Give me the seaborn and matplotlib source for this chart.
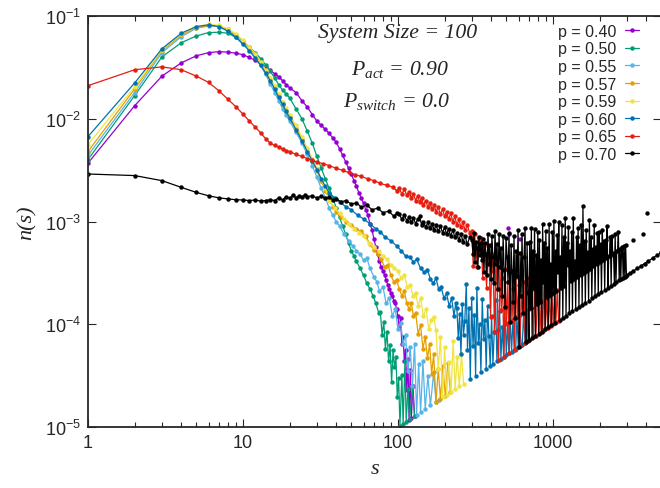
# Cluster size distribution n(s), log-log, for several occupation probabilities p.
import numpy as np
import pandas as pd
import seaborn as sns
import matplotlib.pyplot as plt
from matplotlib import ticker

# one cluster of size s gives n = s * UNIT (the lowest level in the tails)
UNIT = 1e-7

labels = ['p = 0.40', 'p = 0.50', 'p = 0.55', 'p = 0.57',
          'p = 0.59', 'p = 0.60', 'p = 0.65', 'p = 0.70']
colors = ['#9400d3', '#009e73', '#56b4e9', '#e69f00',
          '#f0e442', '#0072b2', '#e51e10', '#000000']

# smooth part of each curve: s and n(s)
s_040 = [1, 2, 3, 4, 5, 6, 7, 8, 9, 10, 11, 12, 13, 14, 15, 16, 17, 18, 19, 20,
         22, 24, 26, 28, 30, 32, 34, 36, 38, 40, 42, 44, 46, 48, 50, 52, 54, 56,
         58, 60, 62, 64, 66, 68, 70, 72, 74, 76, 78, 80, 82, 84, 86, 88, 90, 92,
         94, 96, 98, 100]
n_040 = [3.7e-3, 1.34e-2, 2.6e-2, 3.5e-2, 4.1e-2, 4.4e-2, 4.5e-2, 4.45e-2, 4.35e-2,
         4.2e-2, 3.95e-2, 3.7e-2, 3.45e-2, 3.2e-2, 2.95e-2, 2.75e-2, 2.55e-2, 2.35e-2,
         2.15e-2, 2.0e-2, 1.8e-2, 1.5e-2, 1.3e-2, 1.1e-2, 9.5e-3, 8.6e-3, 7.9e-3,
         7.2e-3, 6.5e-3, 5.9e-3, 5.1e-3, 4.4e-3, 3.8e-3, 3.3e-3, 2.9e-3, 2.5e-3,
         2.2e-3, 1.9e-3, 1.7e-3, 1.5e-3, 1.3e-3, 1.15e-3, 9.5e-4, 8.3e-4, 6.8e-4,
         5.6e-4, 4.8e-4, 4.1e-4, 3.6e-4, 3.3e-4, 3.0e-4, 2.7e-4, 2.4e-4, 2.2e-4,
         2.0e-4, 1.9e-4, 1.7e-4, 1.6e-4, 1.4e-4, 1.2e-4]

s_050 = [1, 2, 3, 4, 5, 6, 7, 8, 9, 10, 11, 12, 13, 14, 15, 16, 17, 18, 19, 20,
         22, 24, 26, 28, 30, 32, 34, 36, 38, 40, 42, 44, 46, 48, 50, 52, 54, 57,
         60, 63, 66, 69, 72, 75]
n_050 = [4.0e-3, 1.68e-2, 4.0e-2, 5.5e-2, 6.4e-2, 6.9e-2, 6.95e-2, 6.8e-2, 6.2e-2,
         5.6e-2, 5.0e-2, 4.4e-2, 3.85e-2, 3.35e-2, 2.9e-2, 2.5e-2, 2.15e-2, 1.9e-2,
         1.75e-2, 1.6e-2, 1.25e-2, 1.0e-2, 7.6e-3, 5.8e-3, 4.3e-3, 3.3e-3, 2.6e-3,
         2.1e-3, 1.7e-3, 1.35e-3, 1.1e-3, 9e-4, 7.5e-4, 6.2e-4, 5.2e-4, 4.6e-4,
         4.1e-4, 3.5e-4, 3.0e-4, 2.5e-4, 2.2e-4, 1.9e-4, 1.6e-4, 1.3e-4]

s_055 = [1, 2, 3, 4, 5, 6, 7, 8, 9, 10, 11, 12, 13, 14, 15, 16, 17, 18, 19, 20,
         22, 24, 26, 28, 30, 32, 34, 36, 38, 40, 42, 45, 48, 51, 54, 57, 60, 63,
         66, 70, 73, 76, 80, 84, 88, 92, 96]
n_055 = [4.4e-3, 1.8e-2, 4.4e-2, 6.3e-2, 7.6e-2, 8.0e-2, 7.9e-2, 7.2e-2, 6.4e-2,
         5.5e-2, 4.7e-2, 4.0e-2, 3.3e-2, 2.7e-2, 2.2e-2, 1.8e-2, 1.5e-2, 1.25e-2,
         1.08e-2, 9.5e-3, 7.4e-3, 5.8e-3, 4.5e-3, 3.5e-3, 2.7e-3, 2.1e-3, 1.7e-3,
         1.35e-3, 1.15e-3, 1.0e-3, 9e-4, 7.5e-4, 6.5e-4, 5.8e-4, 5.2e-4, 4.8e-4,
         4.2e-4, 4.4e-4, 3.5e-4, 2.9e-4, 2.6e-4, 2.1e-4, 2.3e-4, 1.6e-4, 1.8e-4,
         1.2e-4, 1.4e-4]

s_057 = [1, 2, 3, 4, 5, 6, 7, 8, 9, 10, 11, 12, 13, 14, 15, 16, 17, 18, 19, 20,
         22, 24, 26, 28, 30, 32, 34, 36, 38, 40, 43, 46, 50, 54, 58, 62, 66, 70,
         74, 78, 82, 86, 90, 94, 98, 102, 106, 110, 114, 118, 122, 126, 130]
n_057 = [4.8e-3, 1.95e-2, 4.6e-2, 6.5e-2, 7.7e-2, 8.1e-2, 8.0e-2, 7.4e-2, 6.6e-2,
         5.7e-2, 4.9e-2, 4.2e-2, 3.5e-2, 2.9e-2, 2.4e-2, 2.0e-2, 1.65e-2, 1.38e-2,
         1.2e-2, 1.05e-2, 8.2e-3, 6.3e-3, 4.9e-3, 3.9e-3, 3.1e-3, 2.5e-3, 2.0e-3,
         1.65e-3, 1.4e-3, 1.25e-3, 1.1e-3, 1.0e-3, 9.2e-4, 8.5e-4, 8.0e-4, 7.2e-4,
         6.0e-4, 5.3e-4, 4.8e-4, 4.3e-4, 3.6e-4, 3.8e-4, 3.0e-4, 2.6e-4, 2.7e-4,
         2.2e-4, 1.9e-4, 2.1e-4, 1.6e-4, 1.4e-4, 1.6e-4, 1.2e-4, 1.3e-4]

s_059 = [1, 2, 3, 4, 5, 6, 7, 8, 9, 10, 11, 12, 13, 14, 15, 16, 17, 18, 19, 20,
         22, 24, 26, 28, 30, 32, 34, 36, 39, 42, 45, 48, 52, 56, 60, 65, 70, 75,
         80, 85, 90, 95, 100, 105, 110, 115, 120, 125, 130, 135, 140, 146, 152,
         158, 164]
n_059 = [5.6e-3, 2.05e-2, 4.7e-2, 6.7e-2, 7.9e-2, 8.3e-2, 8.1e-2, 7.5e-2, 6.7e-2,
         5.8e-2, 5.0e-2, 4.3e-2, 3.6e-2, 3.0e-2, 2.5e-2, 2.1e-2, 1.75e-2, 1.47e-2,
         1.27e-2, 1.1e-2, 8.6e-3, 6.7e-3, 5.2e-3, 4.1e-3, 3.3e-3, 2.6e-3, 2.1e-3,
         1.6e-3, 1.35e-3, 1.2e-3, 1.05e-3, 9.5e-4, 8.5e-4, 7.8e-4, 7.2e-4, 6.2e-4,
         5.6e-4, 5.2e-4, 4.6e-4, 4.3e-4, 3.8e-4, 3.5e-4, 3.3e-4, 2.8e-4, 3.0e-4,
         2.3e-4, 2.4e-4, 1.9e-4, 2.0e-4, 1.5e-4, 1.8e-4, 1.2e-4, 1.4e-4, 9e-5,
         1.1e-4]

s_060 = [1, 2, 3, 4, 5, 6, 7, 8, 9, 10, 11, 12, 13, 14, 15, 16, 17, 18, 19, 20,
         22, 24, 26, 28, 30, 32, 34, 36, 39, 42, 46, 50, 55, 60, 66, 72, 77, 83,
         90, 98, 105, 112, 120, 126, 132, 140, 148, 155, 162, 169, 176, 183, 190,
         198, 206, 214, 222, 230, 236]
n_060 = [6.7e-3, 2.23e-2, 4.8e-2, 6.8e-2, 7.9e-2, 8.2e-2, 7.9e-2, 7.1e-2, 6.2e-2,
         5.3e-2, 4.6e-2, 3.9e-2, 3.3e-2, 2.8e-2, 2.35e-2, 1.95e-2, 1.62e-2, 1.38e-2,
         1.18e-2, 1.02e-2, 7.8e-3, 6.1e-3, 4.8e-3, 3.9e-3, 3.2e-3, 2.6e-3, 2.2e-3,
         1.9e-3, 1.7e-3, 1.55e-3, 1.4e-3, 1.3e-3, 1.15e-3, 1.06e-3, 9.5e-4, 8.5e-4,
         7.9e-4, 7.0e-4, 6.5e-4, 5.8e-4, 5.2e-4, 4.6e-4, 4.5e-4, 4.0e-4, 4.3e-4,
         3.5e-4, 3.2e-4, 3.4e-4, 2.75e-4, 2.5e-4, 2.8e-4, 2.2e-4, 2.3e-4, 1.8e-4,
         2.0e-4, 1.5e-4, 1.8e-4, 1.2e-4, 1.6e-4]

s_065 = [1, 2, 3, 4, 5, 6, 7, 8, 9, 10, 11, 12, 13, 14, 15, 16, 17, 18, 19, 20,
         22, 24, 26, 28, 30, 33, 36, 40, 44, 48, 53, 58, 64, 70, 77, 85, 93,
         98, 102, 106, 110, 114, 118, 122, 126, 130, 134, 138, 142, 146, 151, 156,
         161, 166, 171, 176, 182, 188, 194, 200, 206, 212, 219, 226, 233, 240, 247,
         255, 263, 271, 280, 290]
n_065 = [2.1e-2, 3.0e-2, 3.2e-2, 3.0e-2, 2.6e-2, 2.26e-2, 1.87e-2, 1.55e-2, 1.31e-2,
         1.11e-2, 9.5e-3, 8.3e-3, 7.3e-3, 6.4e-3, 5.8e-3, 5.5e-3, 5.3e-3, 5.1e-3,
         4.9e-3, 4.8e-3, 4.5e-3, 4.3e-3, 4.1e-3, 3.95e-3, 3.8e-3, 3.65e-3, 3.5e-3,
         3.3e-3, 3.15e-3, 3.0e-3, 2.85e-3, 2.75e-3, 2.6e-3, 2.5e-3, 2.35e-3,
         2.25e-3, 2.15e-3,
         2.0e-3, 2.1e-3, 1.85e-3, 2.05e-3, 1.8e-3, 1.95e-3, 1.7e-3, 1.85e-3, 1.6e-3,
         1.78e-3, 1.55e-3, 1.7e-3, 1.45e-3, 1.6e-3, 1.38e-3, 1.52e-3, 1.32e-3,
         1.45e-3, 1.25e-3, 1.38e-3, 1.18e-3, 1.32e-3, 1.12e-3, 1.25e-3, 1.05e-3,
         1.2e-3, 1.0e-3, 1.12e-3, 9.2e-4, 1.05e-3, 8.8e-4, 9.8e-4, 8.2e-4, 9.2e-4,
         7.8e-4]

s_070 = [1, 2, 3, 4, 5, 6, 7, 8, 9, 10, 11, 12, 13, 14, 15, 16, 17, 18, 19, 20,
         21, 22, 23, 24, 25, 26, 28, 30, 32, 34, 36, 38, 40, 43, 46, 50, 54, 58,
         63, 68, 74, 80, 87, 94, 98, 102, 106, 110, 114, 118, 122, 126, 130, 134,
         138, 142, 146, 151, 156, 161, 166, 171, 176, 182, 188, 194, 200, 206, 212,
         219, 226, 233, 240, 247, 255, 263, 271, 280, 290]
n_070 = [2.9e-3, 2.8e-3, 2.5e-3, 2.15e-3, 1.92e-3, 1.78e-3, 1.7e-3, 1.66e-3, 1.63e-3,
         1.62e-3, 1.6e-3, 1.62e-3, 1.58e-3, 1.6e-3, 1.63e-3, 1.6e-3, 1.7e-3, 1.62e-3,
         1.75e-3, 1.68e-3, 1.8e-3, 1.7e-3, 1.78e-3, 1.72e-3, 1.8e-3, 1.75e-3,
         1.78e-3, 1.7e-3, 1.76e-3, 1.68e-3, 1.72e-3, 1.62e-3, 1.66e-3, 1.55e-3,
         1.6e-3, 1.48e-3, 1.52e-3, 1.38e-3, 1.45e-3, 1.3e-3, 1.35e-3, 1.22e-3,
         1.26e-3, 1.13e-3, 1.2e-3,
         1.18e-3, 1.05e-3, 1.15e-3, 1.02e-3, 1.1e-3, 9.8e-4, 1.08e-3, 9.5e-4,
         1.05e-3, 1.12e-3, 9.3e-4, 1.0e-3, 8.8e-4, 9.8e-4, 8.6e-4, 9.5e-4, 8.3e-4,
         9.2e-4, 8.0e-4, 9.0e-4, 7.8e-4, 8.8e-4, 7.5e-4, 8.5e-4, 7.2e-4, 8.3e-4,
         7.0e-4, 7.8e-4, 6.6e-4, 7.6e-4, 6.3e-4, 7.3e-4, 6.0e-4, 7.0e-4]

# noisy tails: cluster size s and number of clusters counted there
ts_040 = [102, 104, 106, 108, 110, 112, 114, 116, 118, 120, 122, 125, 128]
tk_040 = [9, 11, 6, 7, 4, 5, 2, 4, 1, 3, 1, 2, 1]

ts_050 = [77, 79, 81, 83, 85, 87, 89, 91, 93, 95, 97, 99, 101, 103, 106, 108, 111,
          113, 116, 119, 124, 128]
tk_050 = [17, 10, 13, 7, 10, 5, 7, 3, 6, 4, 5, 2, 3, 1, 3, 1, 4, 1, 2, 1, 2, 1]

ts_055 = [100, 104, 108, 112, 116, 120, 124, 128, 132, 136, 140, 145, 150, 156,
          162, 170, 176, 185]
tk_055 = [9, 10, 6, 7, 3, 5, 2, 5, 1, 3, 1, 3, 1, 2, 1, 2, 1, 1]

ts_057 = [135, 140, 145, 150, 155, 160, 165, 170, 176, 182, 188, 195, 202, 210, 218]
tk_057 = [6, 7, 4, 5, 3, 4, 2, 3, 1, 2, 1, 2, 1, 2, 1]

ts_059 = [170, 176, 182, 188, 194, 200, 206, 213, 220, 227, 234, 241, 249, 257, 265]
tk_059 = [7, 5, 2, 4, 1, 3, 1, 2, 1, 3, 1, 2, 1, 2, 1]

ts_060 = [240, 245, 250, 255, 260, 265, 270, 276, 281, 287,
          293, 299, 305, 311, 317, 323, 330, 336, 343, 350,
          357, 364, 371, 379, 386, 394, 402, 410, 418, 427,
          435, 444, 453, 462, 471, 481, 490, 500, 510, 520,
          531, 541, 552, 563, 575, 586, 598, 610, 622, 634,
          647, 660, 673, 687, 700]
tk_060 = [6, 3, 5, 2, 6, 3, 4, 9, 2, 5,
          1, 6, 2, 4, 1, 7, 2, 3, 1, 5,
          2, 3, 1, 4, 2, 1, 3, 1, 2, 4,
          1, 2, 3, 1, 2, 1, 3, 1, 2, 1,
          2, 1, 2, 1, 1, 2, 1, 2, 1, 1,
          2, 1, 1, 2, 1]

ts_065 = [300, 306, 312, 318, 325, 331, 338, 345, 352, 359,
          366, 373, 381, 388, 396, 404, 412, 420, 429, 437,
          446, 455, 464, 473, 483, 492, 502, 512, 523, 533,
          544, 555, 566, 577, 588, 600, 612, 625, 637, 650,
          663, 676, 690, 704, 718, 732, 747, 762, 777, 792,
          808, 824, 841, 858, 875, 892, 910, 928, 947, 966,
          985, 1005, 1025, 1045, 1066, 1088]
tk_065 = [27, 12, 24, 18, 11, 21, 16, 20, 8, 17,
          13, 6, 15, 10, 3, 12, 8, 2, 10, 5,
          1, 8, 3, 6, 1, 7, 2, 5, 1, 6,
          2, 4, 1, 5, 2, 4, 1, 3, 2, 4,
          1, 3, 1, 4, 2, 3, 1, 3, 1, 2,
          3, 1, 2, 1, 3, 1, 2, 1, 2, 1,
          2, 1, 2, 1, 2, 1]

ts_070 = [300, 305, 309, 314, 319, 323, 328, 333, 338, 343,
          348, 353, 359, 364, 370, 375, 381, 387, 392, 398,
          404, 410, 417, 423, 429, 436, 442, 449, 456, 463,
          470, 477, 484, 491, 498, 506, 513, 521, 529, 537,
          545, 553, 561, 570, 578, 587, 596, 605, 614, 623,
          632, 642, 651, 661, 671, 681, 691,
          700, 708, 717, 726, 734, 743, 752, 761, 770, 780,
          789, 799, 808, 818, 828, 838, 848, 858, 869, 879,
          890, 900, 911, 922, 933, 945, 956, 968, 979, 991,
          1003, 1015, 1028, 1040, 1052, 1065, 1078, 1091, 1104, 1117,
          1131, 1144, 1158, 1172, 1186, 1201, 1215, 1230, 1245, 1260,
          1275, 1290, 1306, 1321, 1337, 1353, 1370, 1386, 1403, 1420,
          1437, 1454, 1472, 1489, 1507, 1525, 1544, 1562, 1581, 1600,
          1619, 1639, 1659, 1679, 1699, 1719, 1740, 1761, 1782, 1803,
          1825, 1847, 1869, 1892, 1915, 1938, 1961, 1985, 2008, 2033,
          2057, 2082, 2107, 2132, 2158, 2184, 2210, 2237, 2264, 2291,
          2318, 2346, 2375, 2403, 2432, 2461, 2491, 2521, 2551, 2582,
          2613, 2644, 2676, 2708, 2741, 2774, 2807, 2841, 2875, 2910,
          2945, 2980, 3016, 3150, 3300, 3500, 3700, 3900, 4100, 4400,
          4700, 5000]
tk_070 = [22, 16, 25, 13, 20, 17, 11, 21, 14, 18,
          12, 19, 9, 17, 13, 8, 20, 10, 15, 7,
          18, 11, 6, 19, 9, 14, 5, 17, 8, 12,
          4, 15, 7, 3, 14, 9, 5, 15, 2, 11,
          6, 3, 13, 2, 9, 5, 14, 1, 8, 3,
          12, 2, 7, 13, 1, 9, 3,
          1, 9, 2, 12, 1, 7, 3, 11, 1, 6,
          2, 10, 1, 8, 2, 5, 1, 11, 3, 7,
          1, 9, 2, 6, 1, 10, 2, 4, 1, 8,
          2, 10, 1, 5, 2, 7, 3, 9, 1, 4,
          2, 8, 1, 6, 2, 9, 1, 5, 3, 7,
          1, 4, 2, 6, 1, 8, 2, 3, 1, 5,
          2, 6, 1, 4, 2, 6, 1, 9, 2, 4,
          1, 5, 2, 3, 1, 6, 2, 4, 1, 3,
          2, 5, 1, 3, 2, 4, 1, 4, 2, 3,
          1, 4, 2, 3, 1, 3, 2, 4, 1, 2,
          2, 3, 1, 3, 2, 2, 1, 3, 1, 2,
          2, 3, 1, 2, 1, 2, 2, 1, 2, 1,
          2, 1, 1, 1, 1, 1, 1, 1, 1, 1,
          1, 1]

# a few isolated points (no neighbours, so no connecting line)
iso_s_040 = [510, 520, 610]
iso_n_040 = [8.7e-4, 7.5e-4, 6.7e-4]
iso_s_070 = [3300, 3790, 4020]
iso_n_070 = [6.6e-4, 7.6e-4, 1.2e-3]

heads = [(s_040, n_040), (s_050, n_050), (s_055, n_055), (s_057, n_057),
         (s_059, n_059), (s_060, n_060), (s_065, n_065), (s_070, n_070)]
tails = [(ts_040, tk_040), (ts_050, tk_050), (ts_055, tk_055), (ts_057, tk_057),
         (ts_059, tk_059), (ts_060, tk_060), (ts_065, tk_065), (ts_070, tk_070)]

frames = []
for lab, (hs, hn), (ts, tk) in zip(labels, heads, tails):
    tn = np.array(tk) * np.array(ts) * UNIT
    frames.append(pd.DataFrame({'s': list(hs) + list(ts),
                                'n': list(hn) + list(tn),
                                'p': lab}))
df = pd.concat(frames, ignore_index=True)

sns.set_style('ticks')
plt.rcParams['font.family'] = ['Liberation Sans', 'DejaVu Sans']
plt.rcParams['mathtext.fontset'] = 'custom'
plt.rcParams['mathtext.it'] = 'Liberation Serif:italic'
plt.rcParams['mathtext.rm'] = 'Liberation Serif:italic'

fig = plt.figure(figsize=(6.6, 4.89), dpi=100)
ax = fig.add_axes([0.1333, 0.1247, 0.8686, 0.8405])
ax.set_xscale('log')
ax.set_yscale('log')

palette = dict(zip(labels, colors))
sns.lineplot(data=df, x='s', y='n', hue='p', hue_order=labels, palette=palette,
             estimator=None, sort=False, marker='o', markersize=3.2,
             markeredgewidth=0, linewidth=0.9, ax=ax)
sns.scatterplot(x=iso_s_040, y=iso_n_040, color=colors[0], s=10, linewidth=0, ax=ax)
sns.scatterplot(x=iso_s_070, y=iso_n_070, color=colors[7], s=10, linewidth=0, ax=ax)

ax.set_xlim(1, 5000)
ax.set_ylim(1e-5, 1e-1)

ax.xaxis.set_major_locator(ticker.FixedLocator([1, 10, 100, 1000]))
ax.xaxis.set_major_formatter(ticker.FixedFormatter(['1', '10', '100', '1000']))
ax.xaxis.set_minor_locator(ticker.LogLocator(base=10, subs=np.arange(2, 10)))
ax.xaxis.set_minor_formatter(ticker.NullFormatter())
ax.yaxis.set_major_locator(ticker.LogLocator(base=10, numticks=10))
ax.yaxis.set_minor_locator(ticker.NullLocator())
ax.tick_params(which='both', direction='in', top=True, right=True,
               labelsize=13, width=0.8, pad=5)
ax.tick_params(which='major', length=6)
ax.tick_params(which='minor', length=3.5)
for sp in ax.spines.values():
    sp.set_linewidth(1.3)

ax.set_xlabel('s', family='Liberation Serif', style='italic', fontsize=16,
              labelpad=6)
ax.set_ylabel('n(s)', family='Liberation Serif', style='italic', fontsize=16,
              labelpad=6)

fig.text(0.603, 0.932, 'System Size = 100', family='Liberation Serif',
         style='italic', fontsize=15.7, ha='center', va='center')
fig.text(0.606, 0.858, r'$P_{act}$ = 0.90', family='Liberation Serif',
         style='italic', fontsize=15.7, ha='center', va='center')
fig.text(0.601, 0.792, r'$P_{switch}$ = 0.0', family='Liberation Serif',
         style='italic', fontsize=15.7, ha='center', va='center')

handles, labs = ax.get_legend_handles_labels()
ax.legend(handles[:8], labs[:8], loc='upper right',
          bbox_to_anchor=(0.968, 0.949), bbox_transform=fig.transFigure,
          frameon=False, markerfirst=False, fontsize=11.5, handlelength=0.85,
          handletextpad=0.55, labelspacing=0.16, borderpad=0, borderaxespad=0)

fig.savefig('out.png', dpi=100)
